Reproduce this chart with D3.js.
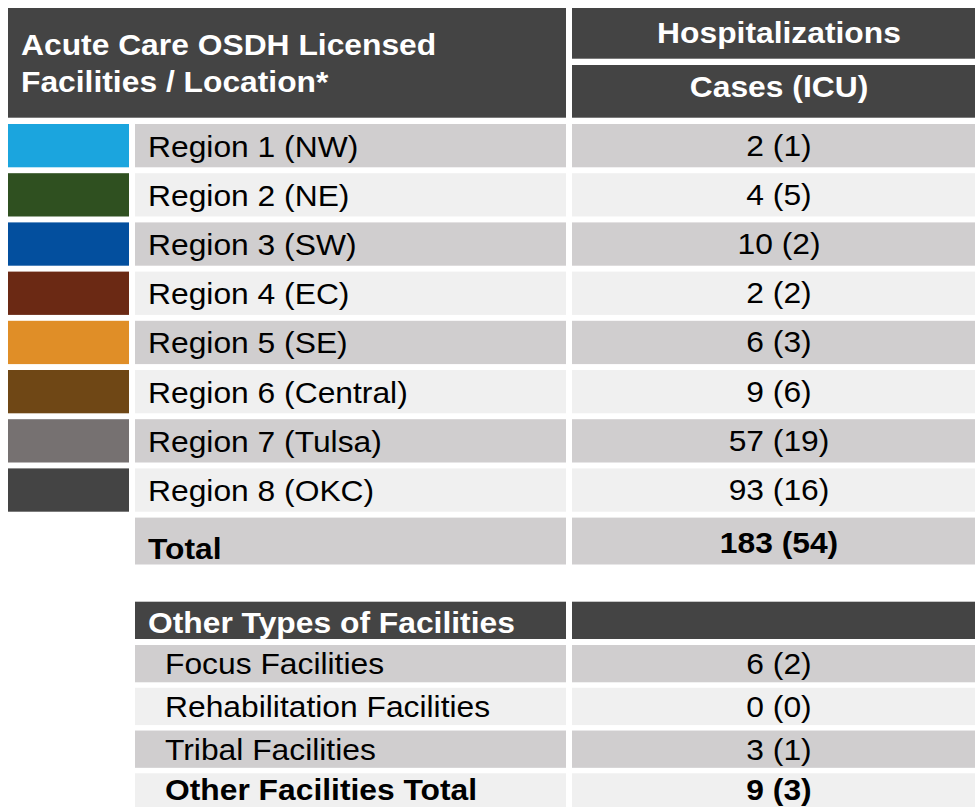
<!DOCTYPE html>
<html>
<head>
<meta charset="utf-8">
<script src="https://cdn.jsdelivr.net/npm/d3@7"></script>
<style>
  html, body { margin: 0; padding: 0; background: #ffffff; }
  svg { display: block; }
  text { font-family: "Liberation Sans", Arial, Helvetica, sans-serif; }
</style>
</head>
<body>
<svg id="chart" width="975" height="807"></svg>
<script>
// ---- data ----
const headerLeft = ["Acute Care OSDH Licensed", "Facilities / Location*"];
const headerRight = ["Hospitalizations", "Cases (ICU)"];
const regions = ["Region 1 (NW)", "Region 2 (NE)", "Region 3 (SW)", "Region 4 (EC)",
                 "Region 5 (SE)", "Region 6 (Central)", "Region 7 (Tulsa)", "Region 8 (OKC)"];
const regionColors = ["#1ba5de", "#2f5020", "#034f9e", "#6b2914", "#e08e27", "#6f4715", "#767171", "#444444"];
const regionCases = [2, 4, 10, 2, 6, 9, 57, 93];
const regionIcu   = [1, 5, 2, 2, 3, 6, 19, 16];
const totalLabel = "Total";
const otherHeader = "Other Types of Facilities";
const otherTypes = ["Focus Facilities", "Rehabilitation Facilities", "Tribal Facilities"];
const otherCases = [6, 0, 3];
const otherIcu   = [2, 0, 1];
const otherTotalLabel = "Other Facilities Total";

// ---- layout ----
const svg = d3.select("#chart");
const C = { dark: "#444444", rowA: "#d0cecf", rowB: "#f0f0f0" };
const FS = 30, SX = 1.06;
const xSwatch = [8, 129], xLabel = [135, 566], xVal = [572, 985];
const valCenter = 779;

function txt(x, y, s, opts = {}) {
  svg.append("text")
    .attr("transform", `translate(${x},${y}) scale(${SX},1)`)
    .attr("text-anchor", opts.anchor || "start")
    .attr("font-size", FS)
    .attr("font-weight", opts.bold ? "bold" : "normal")
    .attr("fill", opts.fill || "#000")
    .text(s);
}
function rect(x0, x1, y0, y1, fill) {
  svg.append("rect").attr("x", x0).attr("y", y0)
    .attr("width", x1 - x0).attr("height", y1 - y0).attr("fill", fill);
}
const fmt = (c, i) => `${c} (${i})`;

// header
rect(8, xLabel[1], 8, 117.7, C.dark);
rect(xVal[0], xVal[1], 8, 58.7, C.dark);
rect(xVal[0], xVal[1], 65, 117.7, C.dark);
txt(21, 55, headerLeft[0], { bold: true, fill: "#fff" });
txt(21, 92, headerLeft[1], { bold: true, fill: "#fff" });
txt(valCenter, 43.3, headerRight[0], { bold: true, fill: "#fff", anchor: "middle" });
txt(valCenter, 96.7, headerRight[1], { bold: true, fill: "#fff", anchor: "middle" });

// region rows
const y = d3.scaleBand().domain(regions).range([124, 511.7]).paddingInner(0.12);
regions.forEach((r, i) => {
  const y0 = y(r), y1 = y0 + y.bandwidth(), cy = y0 + y.bandwidth() / 2;
  const fill = i % 2 === 0 ? C.rowA : C.rowB;
  rect(xSwatch[0], xSwatch[1], y0, y1, regionColors[i]);
  rect(xLabel[0], xLabel[1], y0, y1, fill);
  rect(xVal[0], xVal[1], y0, y1, fill);
  txt(148, cy + 11, r);
  txt(valCenter, cy + 10, fmt(regionCases[i], regionIcu[i]), { anchor: "middle" });
});

// total row
const tTop = y(regions[regions.length - 1]) + y.step();
const tBot = 564.5;
rect(xLabel[0], xLabel[1], tTop, tBot, C.rowA);
rect(xVal[0], xVal[1], tTop, tBot, C.rowA);
txt(148, 559, totalLabel, { bold: true });
txt(valCenter, 553.3, fmt(d3.sum(regionCases), d3.sum(regionIcu)), { bold: true, anchor: "middle" });

// other facilities
rect(xLabel[0], xLabel[1], 601.7, 639, C.dark);
rect(xVal[0], xVal[1], 601.7, 639, C.dark);
txt(148, 632.7, otherHeader, { bold: true, fill: "#fff" });

const otherRows = otherTypes.concat([otherTotalLabel]);
const otherC = otherCases.concat([d3.sum(otherCases)]);
const otherI = otherIcu.concat([d3.sum(otherIcu)]);
const y2 = d3.scaleBand().domain(otherRows).range([645, 810.6]).paddingInner(0.128);
otherRows.forEach((r, i) => {
  const y0 = y2(r), y1 = y0 + y2.bandwidth(), cy = y0 + y2.bandwidth() / 2;
  const fill = i % 2 === 0 ? C.rowA : C.rowB;
  const last = i === otherRows.length - 1;
  const base = last ? 800 : cy + 10.5;
  rect(xLabel[0], xLabel[1], y0, y1, fill);
  rect(xVal[0], xVal[1], y0, y1, fill);
  txt(165, base, r, { bold: last });
  txt(valCenter, base, fmt(otherC[i], otherI[i]), { bold: last, anchor: "middle" });
});
</script>
</body>
</html>
